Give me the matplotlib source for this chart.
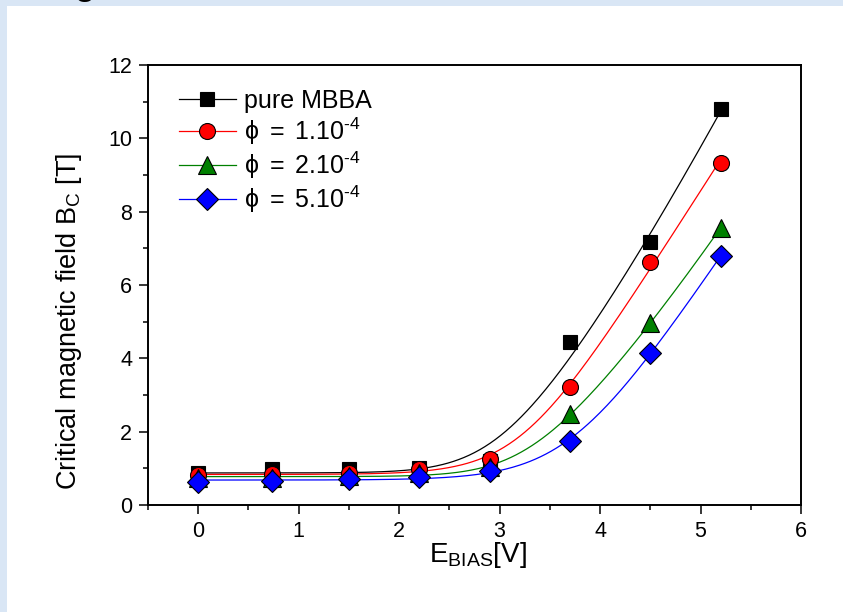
import numpy as np
import matplotlib
matplotlib.use("Agg")
import matplotlib.pyplot as plt

plt.rcParams['font.family'] = ['Liberation Sans', 'DejaVu Sans']
plt.rcParams['mathtext.fontset'] = 'custom'
plt.rcParams['mathtext.rm'] = 'Liberation Sans'
plt.rcParams['mathtext.it'] = 'Liberation Sans:italic'
plt.rcParams['mathtext.bf'] = 'Liberation Sans:bold'

# Bias voltage and measured critical fields
e_bias = [0.0, 0.73, 1.5, 2.2, 2.9, 3.7, 4.5, 5.2]
bc_pure = [0.88, 0.97, 0.98, 1.02, 1.20, 4.44, 7.17, 10.80]
bc_phi1 = [0.81, 0.85, 0.88, 0.99, 1.25, 3.22, 6.63, 9.33]
bc_phi2 = [0.73, 0.75, 0.80, 0.86, 1.05, 2.48, 4.97, 7.55]
bc_phi5 = [0.63, 0.66, 0.71, 0.76, 0.93, 1.75, 4.14, 6.79]

labels = ['pure MBBA',
          r'$\mathregular{\phi\ =\ 1.10^{\text{-}4}}$',
          r'$\mathregular{\phi\ =\ 2.10^{\text{-}4}}$',
          r'$\mathregular{\phi\ =\ 5.10^{\text{-}4}}$']
colors = ['black', 'red', 'green', 'blue']
markers = ['s', 'o', '^', 'D']
msizes = [10, 11.5, 13.5, 11]


def threshold_fit(x, y):
    """Least-squares fit of y = y0 + a * (w*softplus((x-x0)/w))**p."""
    x = np.asarray(x, float)
    y = np.asarray(y, float)
    best = None
    for x0 in np.linspace(1.5, 4.0, 51):
        for w in np.linspace(0.35, 0.9, 12):
            for p in np.linspace(1.0, 2.5, 16):
                f = (w * np.logaddexp(0, (x - x0) / w)) ** p
                A = np.column_stack([np.ones_like(f), f])
                coef, *_ = np.linalg.lstsq(A, y, rcond=None)
                if coef[1] <= 0:
                    continue
                r = np.sum((A @ coef - y) ** 2)
                if best is None or r < best[0]:
                    best = (r, x0, w, p, coef)
    _, x0, w, p, coef = best

    def model(t):
        return coef[0] + coef[1] * (w * np.logaddexp(0, (t - x0) / w)) ** p
    return model


fig = plt.figure(figsize=(8.43, 6.12), dpi=100)
fig.patch.set_facecolor('#d9e6f5')

# white slide panel behind the plot
panel = fig.add_axes([7 / 843, 0, 1 - 7 / 843, 1 - 6 / 612])
panel.set_facecolor('white')
panel.set_xticks([])
panel.set_yticks([])
for s in panel.spines.values():
    s.set_visible(False)
panel.set_zorder(0)

fig.text(85 / 843, 1 + 5 / 612, 'g', fontsize=24, fontweight='bold',
         ha='center', va='baseline', color='black')

ax = fig.add_axes([148 / 843, 1 - 505 / 612, 653 / 843, 440 / 612])
ax.set_zorder(1)
ax.set_facecolor('white')

series = [bc_pure, bc_phi1, bc_phi2, bc_phi5]
xs = np.linspace(min(e_bias), max(e_bias), 300)
for i, (vals, c, m, ms, lab) in enumerate(zip(series, colors, markers, msizes, labels)):
    model = threshold_fit(e_bias, vals)
    ax.plot(xs, model(xs), color=c, lw=0.9, zorder=2 + i)
    ax.plot(e_bias, vals, linestyle='none', marker=m, ms=ms, mfc=c,
            mec='black', mew=0.8, zorder=10 + i)
    # legend proxy: line with centred marker
    ax.plot([], [], color=c, lw=0.9, marker=m, ms=ms, mfc=c, mec='black',
            mew=0.8, label=lab)

ax.set_xlim(-0.5, 6)
ax.set_ylim(0, 12)
ax.set_xticks([0, 1, 2, 3, 4, 5, 6])
ax.set_xticks(np.arange(-0.5, 6.01, 0.5), minor=True)
ax.set_yticks([0, 2, 4, 6, 8, 10, 12])
ax.set_yticks(np.arange(0, 12.01, 1), minor=True)

for s in ax.spines.values():
    s.set_linewidth(1.4)
ax.tick_params(which='major', direction='out', length=6.5, width=1.1,
               labelsize=15.5, top=False, right=False)
ax.tick_params(which='minor', direction='out', length=3.5, width=1.1,
               top=False, right=False)
ax.tick_params(axis='x', which='major', pad=5)
ax.tick_params(axis='y', which='major', pad=5)

ax.set_xlabel(r'$\mathregular{E_{BIAS}[V]}$', fontsize=20)
ax.xaxis.set_label_coords(0.505, -0.08, transform=ax.transAxes)
ax.set_ylabel(r'$\mathregular{Critical\ magnetic\ field\ B_{C}\ [T]}$',
              fontsize=19.5, labelpad=6)
ax.yaxis.set_label_coords(-0.098, 0.418)

leg = ax.legend(loc='upper left', bbox_to_anchor=(0.047, 0.945), frameon=False,
                fontsize=18, handlelength=2.3, handletextpad=0.32,
                labelspacing=0.1, borderaxespad=0, borderpad=0, numpoints=1)

fig.savefig('out.png', dpi=100, facecolor=fig.get_facecolor())
